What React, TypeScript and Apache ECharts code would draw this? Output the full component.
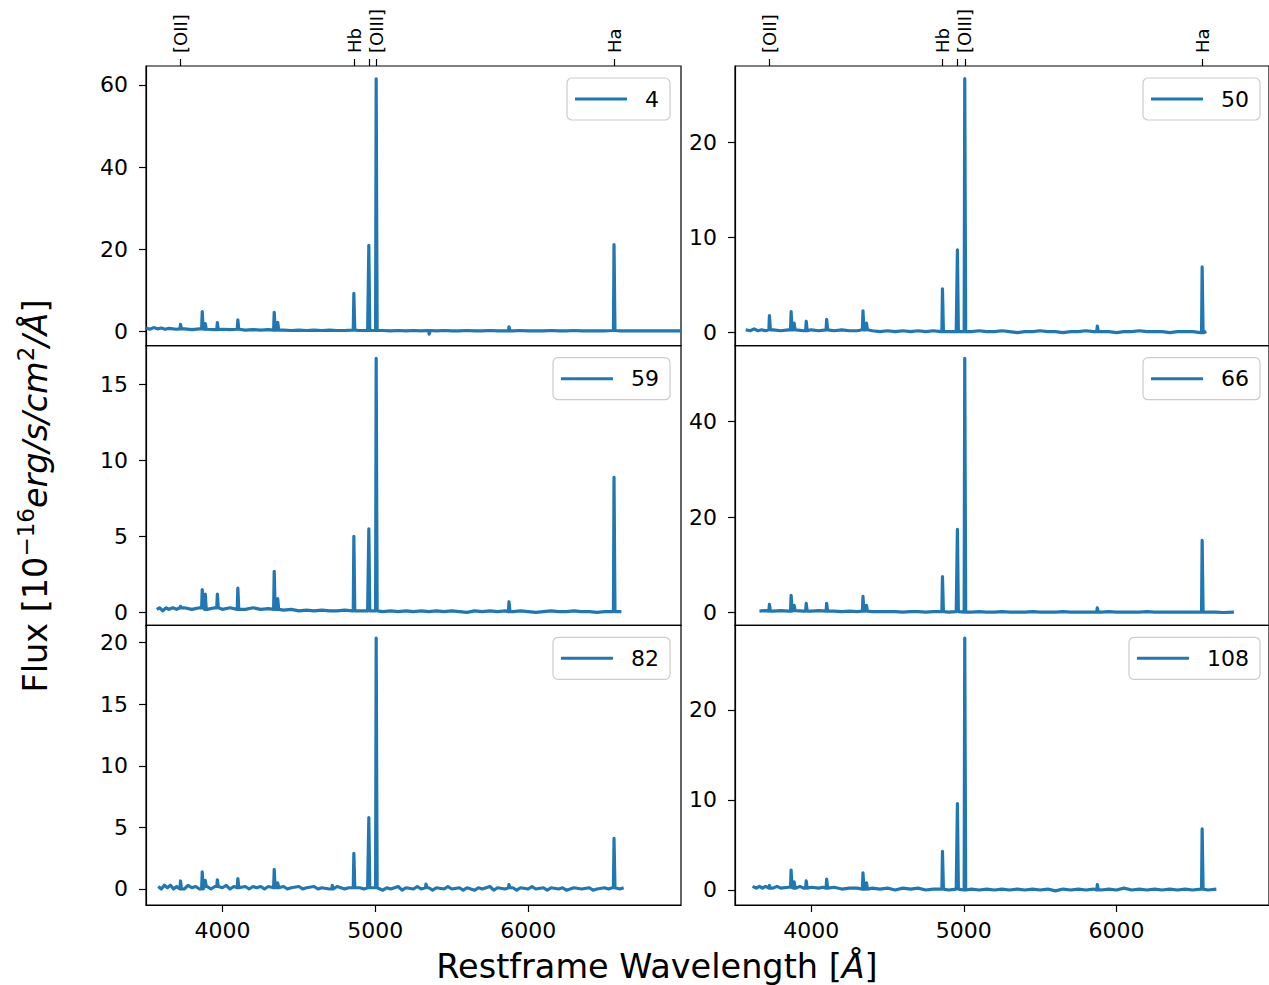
import React, { useEffect, useRef } from 'react';
import * as echarts from 'echarts';

const FONT = 'DejaVu Sans';
const COLOR = '#1f77b4';

const panelNames = ['4', '50', '59', '66', '82', '108'];
const xTicks = [4000, 5000, 6000];
const lineTickWaves = [3727, 4861, 4959, 5007, 6563];
const lineTickNames = ['[OII]', 'Hb', '', '[OIII]', 'Ha'];

const yMin = [-3.4, -1.37, -0.86, -2.7, -1.3, -1.67];
const yMax = [64.6, 28.0, 17.57, 55.9, 21.4, 29.4];
const yTicks = [[0, 20, 40, 60], [0, 10, 20], [0, 5, 10, 15], [0, 20, 40], [0, 5, 10, 15, 20], [0, 10, 20]];

const cont4 = [[3500,0.9],[3525,0.6],[3550,1.0],[3575,0.7],[3600,0.9],[3625,0.6],[3650,0.8],[3700,0.6],[3750,0.7],[3800,0.5],[3850,0.7],[3900,0.6],[3950,0.5],[4000,0.6],[4050,0.5],[4100,0.6],[4150,0.4],[4200,0.5],[4250,0.4],[4300,0.5],[4350,0.4],[4400,0.4],[4450,0.3],[4500,0.4],[4550,0.3],[4600,0.4],[4650,0.3],[4700,0.4],[4750,0.3],[4800,0.3],[4850,0.4],[4900,0.3],[4950,0.3],[5000,0.3],[5050,0.3],[5100,0.2],[5150,0.3],[5200,0.2],[5250,0.3],[5300,0.2],[5350,0.3],[5400,0.2],[5450,0.3],[5500,0.2],[5550,0.2],[5600,0.3],[5650,0.2],[5700,0.2],[5750,0.3],[5800,0.2],[5850,0.2],[5900,0.2],[5950,0.3],[6000,0.2],[6050,0.2],[6100,0.2],[6150,0.3],[6200,0.2],[6250,0.2],[6300,0.3],[6350,0.2],[6400,0.2],[6450,0.2],[6500,0.2],[6550,0.3],[6600,0.2],[6650,0.2],[6700,0.2],[6750,0.2],[6800,0.2],[6850,0.2],[6900,0.2],[6950,0.2],[7000,0.2]];
const lines4 = [[3727,1.8],[3869,4.9],[3889,2.0],[3968,2.2],[4102,2.9],[4340,4.7],[4363,2.3],[4861,9.3],[4959,21.0],[5007,61.5],[5354,-0.6],[5876,1.2],[6563,21.2]];

const cont50 = [[3570,0.3],[3600,0.2],[3625,0.4],[3650,0.2],[3675,0.3],[3700,0.2],[3750,0.3],[3800,0.2],[3850,0.3],[3900,0.3],[3950,0.2],[4000,0.3],[4050,0.2],[4100,0.3],[4150,0.2],[4200,0.3],[4250,0.2],[4300,0.2],[4350,0.3],[4400,0.2],[4450,0.1],[4500,0.2],[4550,0.1],[4600,0.2],[4650,0.1],[4700,0.2],[4750,0.1],[4800,0.2],[4850,0.1],[4900,0.1],[4950,0.1],[5000,0.1],[5050,0.1],[5100,0.2],[5150,0.1],[5200,0.1],[5250,0.2],[5300,0.1],[5350,0.0],[5400,0.1],[5450,0.1],[5500,0.2],[5550,0.1],[5600,0.1],[5650,0.0],[5700,0.1],[5750,0.1],[5800,0.2],[5850,0.1],[5900,0.1],[5950,0.1],[6000,0.0],[6050,0.1],[6100,0.1],[6150,0.2],[6200,0.1],[6250,0.1],[6300,0.1],[6350,0.0],[6400,0.1],[6450,0.1],[6500,0.1],[6550,0.0],[6590,0.1]];
const lines50 = [[3727,1.8],[3869,2.2],[3889,1.0],[3968,1.2],[4102,1.4],[4340,2.3],[4363,1.0],[4861,4.6],[4959,8.7],[5007,26.67],[5876,0.7],[6563,6.9]];

const cont59 = [[3570,0.2],[3590,0.3],[3610,0.1],[3630,0.3],[3650,0.2],[3675,0.3],[3700,0.2],[3750,0.3],[3800,0.2],[3850,0.3],[3900,0.2],[3950,0.3],[4000,0.2],[4050,0.3],[4100,0.2],[4150,0.2],[4200,0.3],[4250,0.2],[4300,0.25],[4350,0.2],[4400,0.15],[4450,0.2],[4500,0.1],[4550,0.15],[4600,0.1],[4650,0.15],[4700,0.1],[4750,0.1],[4800,0.15],[4850,0.1],[4900,0.1],[4950,0.1],[5000,0.1],[5050,0.05],[5100,0.1],[5150,0.05],[5200,0.1],[5250,0.05],[5300,0.1],[5350,0.05],[5400,0.1],[5450,0.05],[5500,0.1],[5550,0.05],[5600,0.0],[5650,0.1],[5700,0.05],[5750,0.1],[5800,0.05],[5850,0.1],[5900,0.05],[5950,0.1],[6000,0.05],[6050,0.0],[6100,0.05],[6150,0.1],[6200,0.05],[6250,0.05],[6300,0.1],[6350,0.05],[6400,0.05],[6450,0.0],[6500,0.05],[6550,0.05],[6610,0.05]];
const lines59 = [[3727,0.4],[3869,1.5],[3889,1.2],[3968,1.2],[4102,1.6],[4340,2.7],[4363,0.9],[4861,5.0],[4959,5.5],[5007,16.73],[5876,0.7],[6563,8.9]];

const cont66 = [[3660,0.3],[3700,0.4],[3750,0.3],[3800,0.4],[3850,0.3],[3900,0.4],[3950,0.3],[4000,0.3],[4050,0.4],[4100,0.3],[4150,0.3],[4200,0.2],[4250,0.3],[4300,0.2],[4350,0.3],[4400,0.2],[4450,0.2],[4500,0.2],[4550,0.2],[4600,0.1],[4650,0.2],[4700,0.2],[4750,0.1],[4800,0.2],[4850,0.2],[4900,0.1],[4950,0.2],[5000,0.1],[5050,0.1],[5100,0.2],[5150,0.1],[5200,0.1],[5250,0.2],[5300,0.1],[5350,0.1],[5400,0.1],[5450,0.2],[5500,0.1],[5550,0.1],[5600,0.1],[5650,0.2],[5700,0.1],[5750,0.1],[5800,0.1],[5850,0.1],[5900,0.1],[5950,0.2],[6000,0.1],[6050,0.1],[6100,0.1],[6150,0.1],[6200,0.2],[6250,0.1],[6300,0.1],[6350,0.1],[6400,0.1],[6450,0.1],[6500,0.1],[6550,0.1],[6600,0.1],[6650,0.1],[6700,0.0],[6770,0.1]];
const lines66 = [[3727,1.7],[3869,3.6],[3889,1.5],[3968,1.9],[4102,1.9],[4340,3.4],[4363,1.5],[4861,7.5],[4959,17.4],[5007,53.25],[5876,1.0],[6563,15.1]];

const cont82 = [[3580,0.2],[3600,0.0],[3620,0.3],[3640,0.1],[3660,0.3],[3680,0.0],[3700,0.2],[3750,0.0],[3775,0.3],[3800,0.1],[3825,0.2],[3850,0.0],[3900,0.2],[3925,0.0],[3950,0.2],[4000,0.1],[4025,0.3],[4050,0.0],[4075,0.2],[4100,0.1],[4150,0.2],[4175,0.0],[4200,0.2],[4225,0.1],[4250,0.2],[4275,0.0],[4300,0.2],[4350,0.1],[4400,0.2],[4425,0.0],[4450,0.1],[4500,0.2],[4525,0.0],[4550,0.1],[4600,0.2],[4625,0.0],[4650,0.1],[4700,0.0],[4750,0.2],[4800,0.0],[4825,0.1],[4900,0.1],[4925,0.0],[4950,0.1],[5000,0.1],[5050,-0.1],[5075,0.1],[5100,0.0],[5150,0.2],[5175,-0.1],[5200,0.1],[5250,0.0],[5275,0.2],[5300,0.0],[5350,0.1],[5375,-0.1],[5400,0.1],[5450,0.0],[5475,0.2],[5500,0.0],[5550,0.1],[5575,-0.1],[5600,0.1],[5650,-0.1],[5675,0.1],[5700,0.0],[5750,0.2],[5775,-0.1],[5800,0.1],[5850,0.0],[5900,0.1],[5925,-0.1],[5950,0.1],[6000,0.0],[6025,0.2],[6050,0.0],[6100,0.1],[6125,-0.1],[6150,0.1],[6200,0.0],[6225,0.1],[6250,-0.1],[6300,0.1],[6350,0.0],[6400,0.1],[6425,-0.1],[6450,0.0],[6500,0.1],[6525,0.0],[6550,0.1],[6600,0.0],[6625,0.1]];
const lines82 = [[3727,0.65],[3869,1.4],[3889,0.7],[3968,0.75],[4102,0.85],[4340,1.6],[4363,0.5],[4720,0.3],[4861,2.9],[4959,5.8],[5007,20.37],[5333,0.4],[5876,0.35],[6563,4.1]];

const cont108 = [[3615,0.4],[3640,0.2],[3660,0.4],[3680,0.2],[3700,0.4],[3750,0.2],[3775,0.4],[3800,0.2],[3850,0.3],[3900,0.2],[3925,0.4],[3950,0.2],[4000,0.3],[4050,0.2],[4075,0.3],[4100,0.2],[4150,0.3],[4200,0.1],[4250,0.2],[4300,0.2],[4350,0.1],[4400,0.2],[4450,0.1],[4500,0.2],[4550,0.0],[4600,0.2],[4650,0.1],[4700,0.2],[4750,0.0],[4800,0.1],[4850,0.1],[4900,0.0],[4950,0.1],[5000,0.0],[5050,0.1],[5100,0.0],[5150,0.1],[5200,0.0],[5250,0.1],[5300,0.0],[5350,0.1],[5400,0.0],[5450,0.1],[5500,0.0],[5550,0.1],[5600,-0.1],[5650,0.1],[5700,0.0],[5750,0.1],[5800,0.0],[5850,0.1],[5900,0.0],[5950,0.1],[6000,0.0],[6050,0.2],[6100,0.0],[6150,0.1],[6200,0.0],[6250,0.1],[6300,0.0],[6350,0.1],[6400,0.0],[6450,0.1],[6500,0.0],[6550,0.1],[6600,0.0],[6655,0.1]];
const lines108 = [[3727,0.5],[3869,2.2],[3889,0.9],[3968,1.0],[4102,1.2],[4340,1.9],[4363,0.8],[4861,4.3],[4959,9.6],[5007,27.99],[5876,0.6],[6563,6.8]];

const conts = [cont4, cont50, cont59, cont66, cont82, cont108];
const linesAll = [lines4, lines50, lines59, lines66, lines82, lines108];

function buildSpectrum(cont: number[][], lines: number[][]) {
  const pts: number[][] = cont
    .filter(([w]) => lines.every(([lw]) => Math.abs(w - lw) > 8))
    .map((p) => [p[0], p[1]]);
  for (const [lw, peak] of lines) {
    let best = cont[0];
    for (const c of cont) if (Math.abs(c[0] - lw) < Math.abs(best[0] - lw)) best = c;
    const foot = best[1];
    pts.push([lw - 5, foot], [lw - 1.2, peak], [lw + 1.2, peak], [lw + 5, foot]);
  }
  pts.sort((a, b) => a[0] - b[0]);
  return pts;
}

const colLeft = [146, 735];
const colWidth = 535;
const rowTop = [66, 345.7, 625.3];
const rowHeight = 279.7;

export default function App() {
  const ref = useRef<HTMLDivElement>(null);
  useEffect(() => {
    if (!ref.current) return;
    const chart = echarts.init(ref.current, undefined, { renderer: 'svg' });
    const grids: any[] = [];
    const xAxes: any[] = [];
    const yAxes: any[] = [];
    const series: any[] = [];
    const legends: any[] = [];
    const axisLine = { show: true, onZero: false, lineStyle: { color: '#000', width: 1.2 } };
    for (let i = 0; i < 6; i++) {
      const row = Math.floor(i / 2);
      const col = i % 2;
      grids.push({
        left: colLeft[col], top: rowTop[row], width: colWidth, height: rowHeight,
        show: true, borderColor: '#000', borderWidth: 1.2, backgroundColor: 'transparent',
      });
      const bottomRow = row === 2;
      xAxes.push({
        type: 'value', gridIndex: i, min: 3500, max: 7000, position: 'bottom',
        axisLine,
        splitLine: { show: false },
        axisTick: bottomRow
          ? { show: true, customValues: xTicks, length: 7, lineStyle: { color: '#000', width: 1.2 } }
          : { show: false },
        axisLabel: bottomRow
          ? {
              show: true, customValues: xTicks, fontSize: 22, fontFamily: FONT, color: '#000', margin: 14,
              formatter: (v: number) => String(v),
            }
          : { show: false },
      });
      yAxes.push({
        type: 'value', gridIndex: i, min: yMin[i], max: yMax[i],
        axisLine,
        splitLine: { show: false },
        axisTick: { show: true, customValues: yTicks[i], length: 7, lineStyle: { color: '#000', width: 1.2 } },
        axisLabel: {
          show: true, customValues: yTicks[i], fontSize: 22, fontFamily: FONT, color: '#000', margin: 18,
          formatter: (v: number) => String(v),
        },
      });
      series.push({
        type: 'line', name: panelNames[i], xAxisIndex: i, yAxisIndex: i,
        data: buildSpectrum(conts[i], linesAll[i]),
        symbol: 'none', showSymbol: false, color: COLOR,
        lineStyle: { color: COLOR, width: 3.2, join: 'round', cap: 'butt' },
        animation: false,
      });
      legends.push({
        show: true, data: [panelNames[i]],
        right: col === 0 ? 1269 - 670 : 9,
        top: rowTop[row] + 12,
        orient: 'horizontal', icon: 'rect', itemWidth: 52, itemHeight: 3, itemGap: 0,
        padding: [10, 11, 10, 8],
        backgroundColor: '#fff', borderColor: '#cccccc', borderWidth: 1.2, borderRadius: 5,
        textStyle: { fontSize: 22, fontFamily: FONT, color: '#000', padding: [0, 0, 0, 13] },
        selectedMode: false,
      });
    }
    for (let c = 0; c < 2; c++) {
      xAxes.push({
        type: 'value', gridIndex: c, min: 3500, max: 7000, position: 'top',
        axisLine: { show: false, onZero: false },
        splitLine: { show: false },
        axisTick: { show: true, customValues: lineTickWaves, length: 7, lineStyle: { color: '#000', width: 1.2 } },
        axisLabel: {
          show: true,
          customValues: lineTickWaves.filter((_, k) => lineTickNames[k] !== ''),
          rotate: -90, fontSize: 18, fontFamily: FONT, color: '#000', margin: 13,
          formatter: (v: number) => {
            const k = lineTickWaves.indexOf(v);
            return k >= 0 ? lineTickNames[k] : '';
          },
        },
      });
    }
    const option: any = {
      animation: false,
      backgroundColor: '#fff',
      grid: grids,
      xAxis: xAxes,
      yAxis: yAxes,
      series,
      legend: legends,
      graphic: [
        {
          type: 'text', x: 657, y: 966, z: 10,
          style: {
            text: '{a|Restframe Wavelength [}{i|Å}{a|]}',
            align: 'center', verticalAlign: 'middle',
            fill: '#000',
            rich: {
              a: { fontSize: 33.5, fontFamily: FONT, fill: '#000' },
              i: { fontSize: 33.5, fontFamily: FONT, fontStyle: 'italic', fill: '#000' },
            },
          },
        },
        {
          type: 'text', x: 33, y: 496, rotation: Math.PI / 2, z: 10,
          style: {
            text: '{a|Flux [10}{s|\u221216}{i|erg/s/cm}{s|2}{i|/Å}{a|]}',
            align: 'center', verticalAlign: 'middle',
            fill: '#000',
            rich: {
              a: { fontSize: 33.5, fontFamily: FONT, fill: '#000', lineHeight: 38, verticalAlign: 'bottom' },
              i: { fontSize: 33.5, fontFamily: FONT, fontStyle: 'italic', fill: '#000', lineHeight: 38, verticalAlign: 'bottom' },
              s: { fontSize: 23, fontFamily: FONT, fill: '#000', lineHeight: 24, verticalAlign: 'top' },
            },
          },
        },
      ],
    };
    chart.setOption(option);
    return () => chart.dispose();
  }, []);
  return (
    <div
      ref={ref}
      style={{ position: 'absolute', left: 0, top: 0, width: 1269, height: 985 }}
    />
  );
}
